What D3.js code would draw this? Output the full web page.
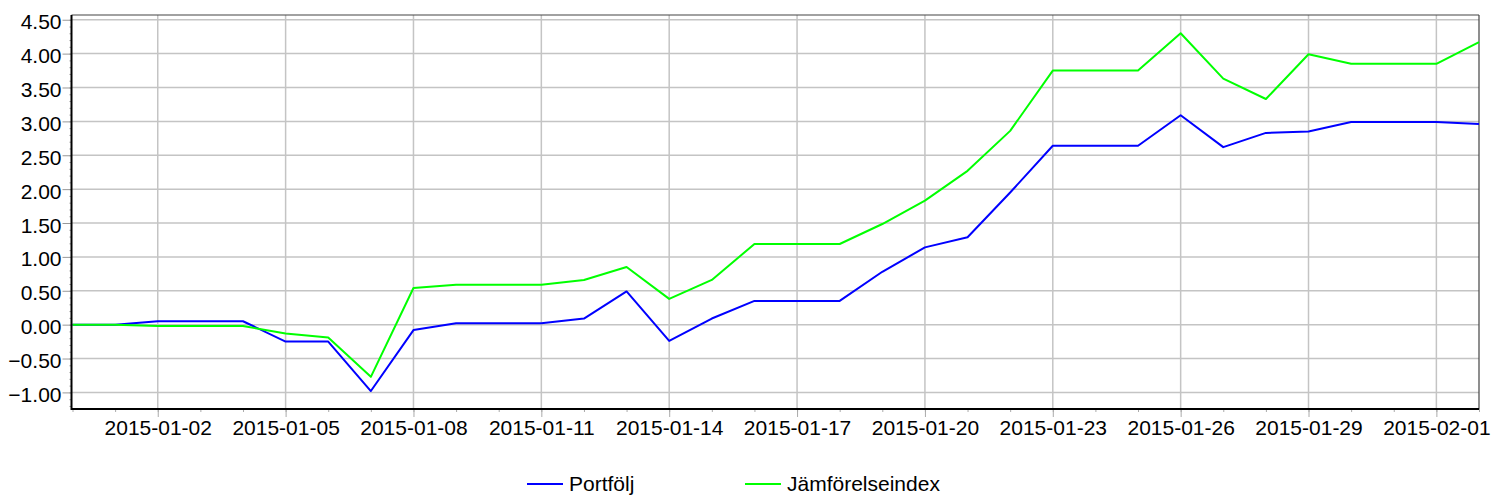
<!DOCTYPE html>
<html>
<head>
<meta charset="utf-8">
<script src="https://cdn.jsdelivr.net/npm/d3@7"></script>
<style>
  body { margin: 0; background: #fff; }
  text { font-family: "Liberation Sans", Arial, sans-serif; }
</style>
</head>
<body>
<div class="chart"></div>
<script>
const dates = ["2014-12-31", "2015-01-01", "2015-01-02", "2015-01-03", "2015-01-04", "2015-01-05",
    "2015-01-06", "2015-01-07", "2015-01-08", "2015-01-09", "2015-01-10", "2015-01-11",
    "2015-01-12", "2015-01-13", "2015-01-14", "2015-01-15", "2015-01-16", "2015-01-17",
    "2015-01-18", "2015-01-19", "2015-01-20", "2015-01-21", "2015-01-22", "2015-01-23",
    "2015-01-24", "2015-01-25", "2015-01-26", "2015-01-27", "2015-01-28", "2015-01-29",
    "2015-01-30", "2015-01-31", "2015-02-01", "2015-02-02"];
const portfolj = [0, 0, 0.05, 0.05, 0.05, -0.25, -0.25, -0.98, -0.08, 0.02, 0.02, 0.02,
    0.09, 0.49, -0.24, 0.09, 0.35, 0.35, 0.35, 0.78, 1.14, 1.29, 1.95, 2.64,
    2.64, 2.64, 3.09, 2.62, 2.83, 2.85, 2.99, 2.99, 2.99, 2.96];
const jamforelse = [0, 0, -0.02, -0.02, -0.02, -0.13, -0.19, -0.77, 0.54, 0.59, 0.59, 0.59,
    0.66, 0.85, 0.38, 0.66, 1.19, 1.19, 1.19, 1.485, 1.83, 2.27, 2.86, 3.75,
    3.75, 3.75, 4.30, 3.63, 3.33, 3.99, 3.85, 3.85, 3.85, 4.17];
const xTickLabels = ["2015-01-02", "2015-01-05", "2015-01-08", "2015-01-11", "2015-01-14",
    "2015-01-17", "2015-01-20", "2015-01-23", "2015-01-26", "2015-01-29", "2015-02-01"];
const yTickLabels = [-1, -0.5, 0, 0.5, 1, 1.5, 2, 2.5, 3, 3.5, 4, 4.5];
const seriesNames = ["Portfölj", "Jämförelseindex"];
const seriesColors = ["#0000ff", "#00ff00"];

const w = 1491, h = 497;
const plotLeft = 71.5, plotRight = 1479, plotTop = 15, plotBottom = 409;

const parse = d3.utcParse("%Y-%m-%d");
const fmt = d3.utcFormat("%Y-%m-%d");

const svg = d3.select(".chart").append("svg")
    .attr("width", w)
    .attr("height", h);

const x = d3.scaleUtc()
    .domain([parse("2014-12-31"), parse("2015-02-02")])
    .range([72.5, 1479]);
const y = d3.scaleLinear()
    .domain([-1.245, 4.57])
    .range([plotBottom, plotTop]);

// grid
const grid = svg.append("g");
grid.selectAll(".hg").data(yTickLabels).enter().append("line")
    .attr("x1", plotLeft).attr("x2", plotRight)
    .attr("y1", d => y(d)).attr("y2", d => y(d))
    .attr("stroke", "#c4c4c4").attr("stroke-width", 1.5);
grid.selectAll(".vg").data(xTickLabels).enter().append("line")
    .attr("x1", d => x(parse(d))).attr("x2", d => x(parse(d)))
    .attr("y1", plotTop).attr("y2", plotBottom)
    .attr("stroke", "#c4c4c4").attr("stroke-width", 1.5);

// frame top/right
svg.append("line").attr("x1", plotLeft).attr("x2", plotRight).attr("y1", plotTop).attr("y2", plotTop)
    .attr("stroke", "#444").attr("stroke-width", 1.2);
svg.append("line").attr("x1", plotRight).attr("x2", plotRight).attr("y1", plotTop).attr("y2", plotBottom)
    .attr("stroke", "#444").attr("stroke-width", 1.2);

// series lines
const line = d3.line()
    .x((d, i) => x(parse(dates[i])))
    .y(d => y(d));
[portfolj, jamforelse].forEach(function (s, k) {
    svg.append("path")
        .datum(s)
        .attr("fill", "none")
        .attr("stroke", seriesColors[k])
        .attr("stroke-width", 2)
        .attr("stroke-linejoin", "round")
        .attr("d", line);
});

// x axis: minor daily ticks, then major ticks + labels
const xAxisG = svg.append("g").attr("transform", "translate(0," + plotBottom + ")");
xAxisG.call(d3.axisBottom(x).tickValues(dates.map(parse)).tickSize(3).tickFormat(""));
xAxisG.append("g").call(d3.axisBottom(x)
    .tickValues(xTickLabels.map(parse))
    .tickSize(8)
    .tickFormat(fmt));
xAxisG.selectAll(".domain").remove();
xAxisG.selectAll(".tick line").attr("stroke", "#aaa");
xAxisG.selectAll("text")
    .attr("font-size", 21)
    .attr("fill", "#000")
    .attr("font-family", "Liberation Sans, Arial, sans-serif")
    .attr("y", 11);
svg.append("line").attr("x1", plotLeft).attr("x2", plotRight).attr("y1", plotBottom).attr("y2", plotBottom)
    .attr("stroke", "#000").attr("stroke-width", 2);

// y axis
const yAxisG = svg.append("g").attr("transform", "translate(" + plotLeft + ",0)");
yAxisG.call(d3.axisLeft(y).tickValues(d3.range(-12, 46).map(d => d / 10)).tickSize(2).tickFormat(""));
yAxisG.append("g").call(d3.axisLeft(y)
    .tickValues(yTickLabels)
    .tickSize(9)
    .tickFormat(d3.format(".2f")));
yAxisG.selectAll(".domain").remove();
yAxisG.selectAll(".tick line").attr("stroke", "#999");
yAxisG.selectAll("text")
    .attr("font-size", 21)
    .attr("fill", "#000")
    .attr("font-family", "Liberation Sans, Arial, sans-serif")
    .attr("dy", "0.43em")
    .attr("x", -10);
svg.append("line").attr("x1", plotLeft).attr("x2", plotLeft).attr("y1", plotTop).attr("y2", plotBottom + 1)
    .attr("stroke", "#000").attr("stroke-width", 2);

// legend
const legendX = [527, 745];
const legend = svg.append("g");
seriesNames.forEach(function (name, k) {
    legend.append("line")
        .attr("x1", legendX[k]).attr("x2", legendX[k] + 36)
        .attr("y1", 484).attr("y2", 484)
        .attr("stroke", seriesColors[k]).attr("stroke-width", 2);
    legend.append("text")
        .attr("x", legendX[k] + 42)
        .attr("y", 491)
        .attr("font-size", 21)
        .attr("fill", "#000")
        .text(name);
});
</script>
</body>
</html>
